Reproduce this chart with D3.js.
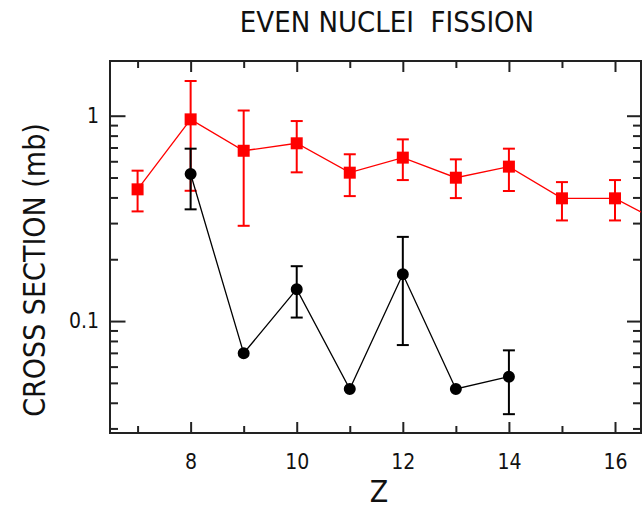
<!DOCTYPE html>
<html>
<head>
<meta charset="utf-8">
<script src="https://cdn.jsdelivr.net/npm/d3@7"></script>
<style>
  html, body { margin: 0; padding: 0; background: #fff; }
  svg { display: block; }
  text { font-family: "Liberation Sans Narrow", "DejaVu Sans Condensed", "Arial Narrow", sans-serif; fill: #111; }
</style>
</head>
<body>
<svg id="chart" width="642" height="510"></svg>
<script>
// Fission cross sections of even nuclei versus Z
const zRed = [7, 8, 9, 10, 11, 12, 13, 14, 15, 16, 17];
const sigmaRed = [0.438, 0.96, 0.675, 0.734, 0.528, 0.625, 0.499, 0.565, 0.396, 0.396, 0.29];
const sigmaRedHi = [0.540, 1.476, 1.06, 0.942, 0.649, 0.767, 0.613, 0.691, 0.475, 0.486, null];
const sigmaRedLo = [0.342, 0.431, 0.291, 0.530, 0.406, 0.486, 0.397, 0.430, 0.309, 0.309, null];

const zBlack = [8, 9, 10, 11, 12, 13, 14];
const sigmaBlack = [0.520, 0.0697, 0.143, 0.0467, 0.169, 0.0467, 0.0536];
const sigmaBlackHi = [0.691, null, 0.185, null, 0.257, null, 0.0720];
const sigmaBlackLo = [0.350, null, 0.104, null, 0.0764, null, 0.0352];

const xMajorTicks = [8, 10, 12, 14, 16];
const xMinorTicks = [7, 9, 11, 13, 15];
const yMajorTicks = [0.1, 1];
const yMinorTicks = [0.03, 0.04, 0.05, 0.06, 0.07, 0.08, 0.09, 0.2, 0.3, 0.4, 0.5, 0.6, 0.7, 0.8, 0.9];

const titleText = "EVEN NUCLEI  FISSION";
const xTitle = "Z";
const yTitle = "CROSS SECTION (mb)";

const plot = { left: 110, right: 641, top: 61, bottom: 433 };

const x = d3.scaleLinear().domain([6.48, 16.49]).range([plot.left, plot.right]);
const y = d3.scaleLog().domain([0.0285, 1.847]).range([plot.bottom, plot.top]);

const svg = d3.select("#chart");

svg.append("defs").append("clipPath").attr("id", "plot-clip")
  .append("rect")
  .attr("x", plot.left).attr("y", plot.top)
  .attr("width", plot.right - plot.left).attr("height", plot.bottom - plot.top);

// Title
svg.append("text")
  .attr("x", 387).attr("y", 32)
  .attr("text-anchor", "middle")
  .attr("font-size", 29)
  .attr("xml:space", "preserve")
  .style("white-space", "pre")
  .text(titleText);

// Axis helpers: ticks point inward on all four sides
function styleAxis(g, fontSize) {
  g.select(".domain").remove();
  g.selectAll(".tick line").attr("stroke", "#222").attr("stroke-width", 2);
  g.attr("font-family", null).attr("font-size", fontSize);
  g.selectAll(".tick text").attr("fill", "#111");
}

const fmtY = v => (v >= 1 ? "1" : "0.1");

svg.append("g").attr("transform", `translate(0,${plot.bottom})`)
  .call(d3.axisBottom(x).tickValues(xMajorTicks).tickSize(-11).tickPadding(21).tickFormat(d3.format("d")))
  .call(g => styleAxis(g, 21));
svg.append("g").attr("transform", `translate(0,${plot.bottom})`)
  .call(d3.axisBottom(x).tickValues(xMinorTicks).tickSize(-7).tickFormat(""))
  .call(g => styleAxis(g, 21));
svg.append("g").attr("transform", `translate(0,${plot.top})`)
  .call(d3.axisTop(x).tickValues(xMajorTicks).tickSize(-11).tickFormat(""))
  .call(g => styleAxis(g, 21));
svg.append("g").attr("transform", `translate(0,${plot.top})`)
  .call(d3.axisTop(x).tickValues(xMinorTicks).tickSize(-7).tickFormat(""))
  .call(g => styleAxis(g, 21));

svg.append("g").attr("transform", `translate(${plot.left},0)`)
  .call(d3.axisLeft(y).tickValues(yMajorTicks).tickSize(-15.5).tickPadding(11).tickFormat(fmtY))
  .call(g => styleAxis(g, 21));
svg.append("g").attr("transform", `translate(${plot.left},0)`)
  .call(d3.axisLeft(y).tickValues(yMinorTicks).tickSize(-8).tickFormat(""))
  .call(g => styleAxis(g, 21));
svg.append("g").attr("transform", `translate(${plot.right},0)`)
  .call(d3.axisRight(y).tickValues(yMajorTicks).tickSize(-14).tickFormat(""))
  .call(g => styleAxis(g, 21));
svg.append("g").attr("transform", `translate(${plot.right},0)`)
  .call(d3.axisRight(y).tickValues(yMinorTicks).tickSize(-8).tickFormat(""))
  .call(g => styleAxis(g, 21));

// Frame
svg.append("rect")
  .attr("x", plot.left).attr("y", plot.top)
  .attr("width", plot.right - plot.left).attr("height", plot.bottom - plot.top)
  .attr("fill", "none").attr("stroke", "#222").attr("stroke-width", 2);

// Axis titles
svg.append("text")
  .attr("x", 379).attr("y", 502)
  .attr("text-anchor", "middle")
  .attr("font-size", 30)
  .text(xTitle);

svg.append("text")
  .attr("transform", "translate(45,270) rotate(-90)")
  .attr("text-anchor", "middle")
  .attr("font-size", 30)
  .text(yTitle);

// Series
function drawSeries(zs, vals, his, los, color, shape) {
  const data = zs.map((z, i) => ({ z, v: vals[i], hi: his[i], lo: los[i] }));
  const g = svg.append("g").attr("clip-path", "url(#plot-clip)");

  g.append("path")
    .datum(data)
    .attr("fill", "none")
    .attr("stroke", color)
    .attr("stroke-width", 1.3)
    .attr("d", d3.line().x(d => x(d.z)).y(d => y(d.v)));

  const withErr = data.filter(d => d.hi != null);
  const capW = 12;
  g.selectAll(null).data(withErr).enter().append("line")
    .attr("x1", d => x(d.z)).attr("x2", d => x(d.z))
    .attr("y1", d => y(d.hi)).attr("y2", d => y(d.lo))
    .attr("stroke", color).attr("stroke-width", 2);
  ["hi", "lo"].forEach(k => {
    g.selectAll(null).data(withErr).enter().append("line")
      .attr("x1", d => x(d.z) - capW / 2).attr("x2", d => x(d.z) + capW / 2)
      .attr("y1", d => y(d[k])).attr("y2", d => y(d[k]))
      .attr("stroke", color).attr("stroke-width", 2);
  });

  const sym = d3.symbol().type(shape === "square" ? d3.symbolSquare : d3.symbolCircle)
    .size(shape === "square" ? 144 : 113);
  g.selectAll(null).data(data).enter().append("path")
    .attr("transform", d => `translate(${x(d.z)},${y(d.v)})`)
    .attr("d", sym)
    .attr("fill", color);
}

drawSeries(zRed, sigmaRed, sigmaRedHi, sigmaRedLo, "#ff0000", "square");
drawSeries(zBlack, sigmaBlack, sigmaBlackHi, sigmaBlackLo, "#000000", "circle");
</script>
</body>
</html>
